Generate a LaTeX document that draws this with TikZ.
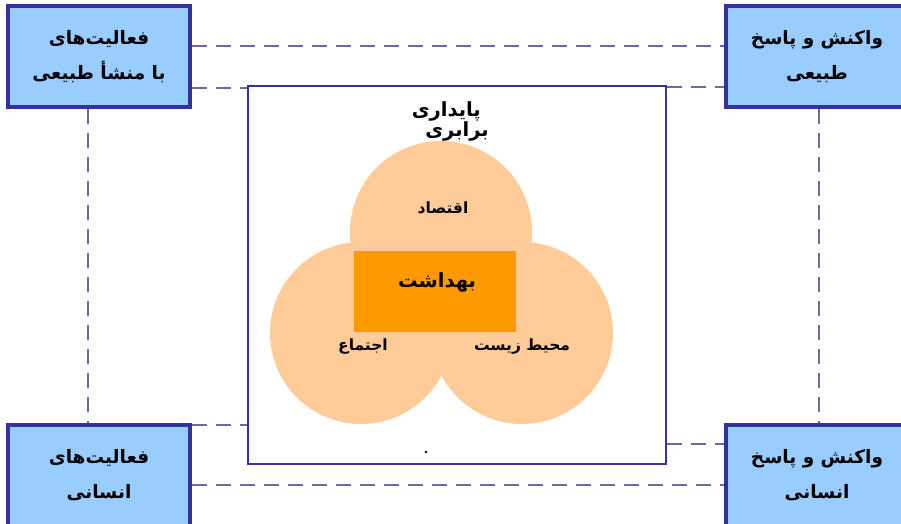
\documentclass[tikz,border=0pt]{standalone}
\usepackage{fontspec}
\TeXXeTstate=1
\newfontfamily\fa[Script=Arabic]{DejaVu Sans}
\definecolor{boxfill}{HTML}{99CCFF}
\definecolor{boxline}{HTML}{333399}
\definecolor{dashc}{HTML}{6B6BA3}
\definecolor{peach}{HTML}{FFCC99}
\definecolor{orng}{HTML}{FF9900}
\begin{document}
\begin{tikzpicture}[x=1pt,y=-1pt,
  sidebox/.style={draw=boxline, line width=3.5pt, fill=boxfill, minimum width=182pt, minimum height=101pt, inner sep=0pt, align=center, font=\fa\bfseries\fontsize{18.5}{35}\selectfont},
  link/.style={draw=dashc, line width=2.8pt, dash pattern=on 15pt off 9pt},
  lbl/.style={inner sep=0pt, font=\fa\bfseries\fontsize{15.5}{17}\selectfont},
  big/.style={inner sep=0pt, font=\fa\bfseries\fontsize{19.5}{21}\selectfont},
  bubble/.style={circle, fill=peach, minimum size=182pt, inner sep=0pt}]
\useasboundingbox (0,0) rectangle (901,524);
\clip (0,0) rectangle (901,524);
% side boxes
\node[sidebox] (tl) at (99,56.5) {\beginR فعالیت‌های\endR\\\beginR با منشأ طبیعی\endR};
\node[sidebox] (tr) at (817,56.5) {\beginR واکنش و پاسخ\endR\\\beginR طبیعی\endR};
\node[sidebox] (bl) at (99,475.5) {\beginR فعالیت‌های\endR\\\beginR انسانی\endR};
\node[sidebox] (br) at (817,475.5) {\beginR واکنش و پاسخ\endR\\\beginR انسانی\endR};
% central frame
\node[draw=boxline, line width=2.5pt, fill=white, minimum width=418pt, minimum height=378pt, inner sep=0pt] (frame) at (457,275) {};
% connectors
\draw[link] (tl.east |- 0,46) -- (tr.west |- 0,46);
\draw[link] (tl.east |- 0,88) -- (frame.west |- 0,88);
\draw[link] (frame.east |- 0,87) -- (tr.west |- 0,87);
\draw[link] (tl.south -| 88,0) -- (bl.north -| 88,0);
\draw[link] (tr.south -| 819,0) -- (br.north -| 819,0);
\draw[link] (bl.east |- 0,425) -- (frame.west |- 0,425);
\draw[link] (bl.east |- 0,485) -- (br.west |- 0,485);
\draw[link] (frame.east |- 0,444) -- (br.west |- 0,444);
% bubbles
\node[bubble] (ctop) at (441,232) {};
\node[bubble] (cleft) at (361,333) {};
\node[bubble] (cright) at (522,333) {};
\node[fill=orng, minimum width=162pt, minimum height=81pt, inner sep=0pt] (health) at (435,291.5) {};
% labels
\node[big, anchor=east] (t1) at (481,111) {\beginR پایداری\endR};
\node[big, anchor=east] (t2) at (489,131) {\beginR برابری\endR};
\node[lbl] (econ) at (443,208) {\beginR اقتصاد\endR};
\node[big] (hlth) at (437,282) {\beginR بهداشت\endR};
\node[lbl] (soc) at (363,347) {\beginR اجتماع\endR};
\node[lbl] (env) at (522,347) {\beginR محیط زیست\endR};
\fill (426,452) circle (1.3pt);
\end{tikzpicture}
\end{document}
